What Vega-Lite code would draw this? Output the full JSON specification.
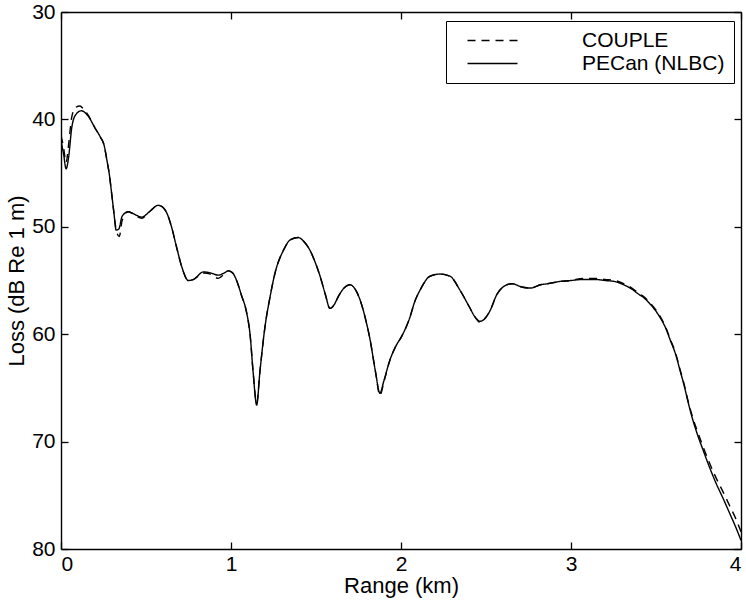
{
  "$schema": "https://vega.github.io/schema/vega-lite/v6.json",
  "width": 680,
  "height": 537,
  "autosize": "none",
  "padding": {"left": 61, "top": 12, "right": 5, "bottom": 58},
  "background": "white",
  "config": {
    "view": {"stroke": null},
    "font": "Liberation Sans",
    "axis": {
      "grid": false,
      "domainColor": "black",
      "domainWidth": 1.4,
      "tickColor": "black",
      "tickWidth": 1.3,
      "tickSize": -7,
      "labelColor": "black",
      "titleColor": "black",
      "labelFont": "Liberation Sans",
      "titleFont": "Liberation Sans",
      "labelFontSize": 21,
      "titleFontSize": 22,
      "titleFontWeight": "normal"
    },
    "legend": {
      "labelFont": "Liberation Sans",
      "labelFontSize": 21,
      "labelColor": "black"
    }
  },
  "data": {"values": [
    {"series": "PECan (NLBC)", "range": 0.0, "loss": 42.0},
    {"series": "PECan (NLBC)", "range": 0.015, "loss": 43.2},
    {"series": "PECan (NLBC)", "range": 0.03, "loss": 44.6},
    {"series": "PECan (NLBC)", "range": 0.045, "loss": 43.5},
    {"series": "PECan (NLBC)", "range": 0.063, "loss": 40.8},
    {"series": "PECan (NLBC)", "range": 0.085, "loss": 39.6},
    {"series": "PECan (NLBC)", "range": 0.12, "loss": 39.2},
    {"series": "PECan (NLBC)", "range": 0.16, "loss": 39.7},
    {"series": "PECan (NLBC)", "range": 0.2, "loss": 40.8},
    {"series": "PECan (NLBC)", "range": 0.23, "loss": 41.6},
    {"series": "PECan (NLBC)", "range": 0.255, "loss": 42.5},
    {"series": "PECan (NLBC)", "range": 0.27, "loss": 43.8},
    {"series": "PECan (NLBC)", "range": 0.285, "loss": 45.2},
    {"series": "PECan (NLBC)", "range": 0.298, "loss": 46.9},
    {"series": "PECan (NLBC)", "range": 0.312, "loss": 48.8},
    {"series": "PECan (NLBC)", "range": 0.324, "loss": 50.3},
    {"series": "PECan (NLBC)", "range": 0.34, "loss": 50.2},
    {"series": "PECan (NLBC)", "range": 0.36, "loss": 49.0},
    {"series": "PECan (NLBC)", "range": 0.396, "loss": 48.6},
    {"series": "PECan (NLBC)", "range": 0.44, "loss": 48.9},
    {"series": "PECan (NLBC)", "range": 0.475, "loss": 49.1},
    {"series": "PECan (NLBC)", "range": 0.52, "loss": 48.6},
    {"series": "PECan (NLBC)", "range": 0.572, "loss": 48.0},
    {"series": "PECan (NLBC)", "range": 0.6, "loss": 48.2},
    {"series": "PECan (NLBC)", "range": 0.622, "loss": 48.7},
    {"series": "PECan (NLBC)", "range": 0.65, "loss": 50.0},
    {"series": "PECan (NLBC)", "range": 0.68, "loss": 51.9},
    {"series": "PECan (NLBC)", "range": 0.71, "loss": 53.7},
    {"series": "PECan (NLBC)", "range": 0.749, "loss": 55.0},
    {"series": "PECan (NLBC)", "range": 0.78, "loss": 54.9},
    {"series": "PECan (NLBC)", "range": 0.837, "loss": 54.2},
    {"series": "PECan (NLBC)", "range": 0.88, "loss": 54.3},
    {"series": "PECan (NLBC)", "range": 0.925, "loss": 54.5},
    {"series": "PECan (NLBC)", "range": 0.96, "loss": 54.3},
    {"series": "PECan (NLBC)", "range": 0.984, "loss": 54.1},
    {"series": "PECan (NLBC)", "range": 1.01, "loss": 54.3},
    {"series": "PECan (NLBC)", "range": 1.033, "loss": 55.0},
    {"series": "PECan (NLBC)", "range": 1.06, "loss": 56.3},
    {"series": "PECan (NLBC)", "range": 1.092, "loss": 58.0},
    {"series": "PECan (NLBC)", "range": 1.112, "loss": 60.0},
    {"series": "PECan (NLBC)", "range": 1.13, "loss": 63.5},
    {"series": "PECan (NLBC)", "range": 1.151, "loss": 66.6},
    {"series": "PECan (NLBC)", "range": 1.17, "loss": 63.5},
    {"series": "PECan (NLBC)", "range": 1.2, "loss": 59.3},
    {"series": "PECan (NLBC)", "range": 1.23, "loss": 56.5},
    {"series": "PECan (NLBC)", "range": 1.259, "loss": 54.3},
    {"series": "PECan (NLBC)", "range": 1.308, "loss": 52.2},
    {"series": "PECan (NLBC)", "range": 1.35, "loss": 51.2},
    {"series": "PECan (NLBC)", "range": 1.396, "loss": 51.0},
    {"series": "PECan (NLBC)", "range": 1.43, "loss": 51.4},
    {"series": "PECan (NLBC)", "range": 1.465, "loss": 52.2},
    {"series": "PECan (NLBC)", "range": 1.495, "loss": 53.3},
    {"series": "PECan (NLBC)", "range": 1.524, "loss": 54.6},
    {"series": "PECan (NLBC)", "range": 1.555, "loss": 56.3},
    {"series": "PECan (NLBC)", "range": 1.582, "loss": 57.6},
    {"series": "PECan (NLBC)", "range": 1.605, "loss": 57.3},
    {"series": "PECan (NLBC)", "range": 1.631, "loss": 56.5},
    {"series": "PECan (NLBC)", "range": 1.665, "loss": 55.7},
    {"series": "PECan (NLBC)", "range": 1.7, "loss": 55.4},
    {"series": "PECan (NLBC)", "range": 1.73, "loss": 55.8},
    {"series": "PECan (NLBC)", "range": 1.759, "loss": 56.8},
    {"series": "PECan (NLBC)", "range": 1.79, "loss": 58.5},
    {"series": "PECan (NLBC)", "range": 1.818, "loss": 60.5},
    {"series": "PECan (NLBC)", "range": 1.85, "loss": 63.5},
    {"series": "PECan (NLBC)", "range": 1.876, "loss": 65.5},
    {"series": "PECan (NLBC)", "range": 1.9, "loss": 64.3},
    {"series": "PECan (NLBC)", "range": 1.935, "loss": 62.4},
    {"series": "PECan (NLBC)", "range": 1.97, "loss": 61.1},
    {"series": "PECan (NLBC)", "range": 2.004, "loss": 60.2},
    {"series": "PECan (NLBC)", "range": 2.053, "loss": 58.4},
    {"series": "PECan (NLBC)", "range": 2.08, "loss": 57.0},
    {"series": "PECan (NLBC)", "range": 2.112, "loss": 55.9},
    {"series": "PECan (NLBC)", "range": 2.171, "loss": 54.6},
    {"series": "PECan (NLBC)", "range": 2.229, "loss": 54.4},
    {"series": "PECan (NLBC)", "range": 2.288, "loss": 54.6},
    {"series": "PECan (NLBC)", "range": 2.347, "loss": 55.9},
    {"series": "PECan (NLBC)", "range": 2.4, "loss": 57.4},
    {"series": "PECan (NLBC)", "range": 2.44, "loss": 58.5},
    {"series": "PECan (NLBC)", "range": 2.465, "loss": 58.8},
    {"series": "PECan (NLBC)", "range": 2.49, "loss": 58.6},
    {"series": "PECan (NLBC)", "range": 2.524, "loss": 57.8},
    {"series": "PECan (NLBC)", "range": 2.564, "loss": 56.3},
    {"series": "PECan (NLBC)", "range": 2.61, "loss": 55.5},
    {"series": "PECan (NLBC)", "range": 2.653, "loss": 55.3},
    {"series": "PECan (NLBC)", "range": 2.71, "loss": 55.6},
    {"series": "PECan (NLBC)", "range": 2.762, "loss": 55.7},
    {"series": "PECan (NLBC)", "range": 2.82, "loss": 55.4},
    {"series": "PECan (NLBC)", "range": 2.862, "loss": 55.3},
    {"series": "PECan (NLBC)", "range": 2.93, "loss": 55.1},
    {"series": "PECan (NLBC)", "range": 3.0, "loss": 55.0},
    {"series": "PECan (NLBC)", "range": 3.07, "loss": 54.9},
    {"series": "PECan (NLBC)", "range": 3.139, "loss": 54.9},
    {"series": "PECan (NLBC)", "range": 3.2, "loss": 55.0},
    {"series": "PECan (NLBC)", "range": 3.259, "loss": 55.1},
    {"series": "PECan (NLBC)", "range": 3.31, "loss": 55.4},
    {"series": "PECan (NLBC)", "range": 3.358, "loss": 55.8},
    {"series": "PECan (NLBC)", "range": 3.4, "loss": 56.3},
    {"series": "PECan (NLBC)", "range": 3.428, "loss": 56.6},
    {"series": "PECan (NLBC)", "range": 3.46, "loss": 57.1},
    {"series": "PECan (NLBC)", "range": 3.497, "loss": 57.8},
    {"series": "PECan (NLBC)", "range": 3.53, "loss": 58.6},
    {"series": "PECan (NLBC)", "range": 3.556, "loss": 59.4},
    {"series": "PECan (NLBC)", "range": 3.585, "loss": 60.6},
    {"series": "PECan (NLBC)", "range": 3.616, "loss": 61.9},
    {"series": "PECan (NLBC)", "range": 3.64, "loss": 63.3},
    {"series": "PECan (NLBC)", "range": 3.666, "loss": 64.8},
    {"series": "PECan (NLBC)", "range": 3.69, "loss": 66.4},
    {"series": "PECan (NLBC)", "range": 3.715, "loss": 67.9},
    {"series": "PECan (NLBC)", "range": 3.745, "loss": 69.4},
    {"series": "PECan (NLBC)", "range": 3.775, "loss": 70.7},
    {"series": "PECan (NLBC)", "range": 3.815, "loss": 72.4},
    {"series": "PECan (NLBC)", "range": 3.854, "loss": 73.9},
    {"series": "PECan (NLBC)", "range": 3.895, "loss": 75.3},
    {"series": "PECan (NLBC)", "range": 3.934, "loss": 76.7},
    {"series": "PECan (NLBC)", "range": 3.97, "loss": 78.0},
    {"series": "PECan (NLBC)", "range": 4.0, "loss": 79.2},

    {"series": "COUPLE", "range": 0.0, "loss": 41.5},
    {"series": "COUPLE", "range": 0.015, "loss": 42.6},
    {"series": "COUPLE", "range": 0.03, "loss": 44.0},
    {"series": "COUPLE", "range": 0.045, "loss": 42.3},
    {"series": "COUPLE", "range": 0.063, "loss": 39.8},
    {"series": "COUPLE", "range": 0.085, "loss": 38.9},
    {"series": "COUPLE", "range": 0.112, "loss": 38.75},
    {"series": "COUPLE", "range": 0.13, "loss": 39.0},
    {"series": "COUPLE", "range": 0.16, "loss": 39.6},
    {"series": "COUPLE", "range": 0.2, "loss": 40.8},
    {"series": "COUPLE", "range": 0.23, "loss": 41.6},
    {"series": "COUPLE", "range": 0.255, "loss": 42.5},
    {"series": "COUPLE", "range": 0.27, "loss": 43.8},
    {"series": "COUPLE", "range": 0.285, "loss": 45.2},
    {"series": "COUPLE", "range": 0.298, "loss": 46.9},
    {"series": "COUPLE", "range": 0.312, "loss": 48.8},
    {"series": "COUPLE", "range": 0.326, "loss": 50.4},
    {"series": "COUPLE", "range": 0.343, "loss": 50.9},
    {"series": "COUPLE", "range": 0.36, "loss": 49.4},
    {"series": "COUPLE", "range": 0.396, "loss": 48.6},
    {"series": "COUPLE", "range": 0.44, "loss": 49.0},
    {"series": "COUPLE", "range": 0.475, "loss": 49.2},
    {"series": "COUPLE", "range": 0.52, "loss": 48.6},
    {"series": "COUPLE", "range": 0.572, "loss": 48.0},
    {"series": "COUPLE", "range": 0.6, "loss": 48.2},
    {"series": "COUPLE", "range": 0.622, "loss": 48.7},
    {"series": "COUPLE", "range": 0.65, "loss": 50.0},
    {"series": "COUPLE", "range": 0.68, "loss": 51.9},
    {"series": "COUPLE", "range": 0.71, "loss": 53.7},
    {"series": "COUPLE", "range": 0.749, "loss": 55.0},
    {"series": "COUPLE", "range": 0.78, "loss": 54.9},
    {"series": "COUPLE", "range": 0.837, "loss": 54.3},
    {"series": "COUPLE", "range": 0.88, "loss": 54.4},
    {"series": "COUPLE", "range": 0.925, "loss": 54.8},
    {"series": "COUPLE", "range": 0.96, "loss": 54.4},
    {"series": "COUPLE", "range": 0.984, "loss": 54.1},
    {"series": "COUPLE", "range": 1.01, "loss": 54.3},
    {"series": "COUPLE", "range": 1.033, "loss": 55.0},
    {"series": "COUPLE", "range": 1.06, "loss": 56.3},
    {"series": "COUPLE", "range": 1.092, "loss": 58.0},
    {"series": "COUPLE", "range": 1.112, "loss": 60.0},
    {"series": "COUPLE", "range": 1.13, "loss": 63.5},
    {"series": "COUPLE", "range": 1.151, "loss": 66.4},
    {"series": "COUPLE", "range": 1.17, "loss": 63.5},
    {"series": "COUPLE", "range": 1.2, "loss": 59.3},
    {"series": "COUPLE", "range": 1.23, "loss": 56.5},
    {"series": "COUPLE", "range": 1.259, "loss": 54.3},
    {"series": "COUPLE", "range": 1.308, "loss": 52.2},
    {"series": "COUPLE", "range": 1.35, "loss": 51.2},
    {"series": "COUPLE", "range": 1.396, "loss": 51.0},
    {"series": "COUPLE", "range": 1.43, "loss": 51.4},
    {"series": "COUPLE", "range": 1.465, "loss": 52.2},
    {"series": "COUPLE", "range": 1.495, "loss": 53.3},
    {"series": "COUPLE", "range": 1.524, "loss": 54.6},
    {"series": "COUPLE", "range": 1.555, "loss": 56.3},
    {"series": "COUPLE", "range": 1.582, "loss": 57.6},
    {"series": "COUPLE", "range": 1.605, "loss": 57.3},
    {"series": "COUPLE", "range": 1.631, "loss": 56.5},
    {"series": "COUPLE", "range": 1.665, "loss": 55.7},
    {"series": "COUPLE", "range": 1.7, "loss": 55.4},
    {"series": "COUPLE", "range": 1.73, "loss": 55.8},
    {"series": "COUPLE", "range": 1.759, "loss": 56.8},
    {"series": "COUPLE", "range": 1.79, "loss": 58.5},
    {"series": "COUPLE", "range": 1.818, "loss": 60.5},
    {"series": "COUPLE", "range": 1.85, "loss": 63.5},
    {"series": "COUPLE", "range": 1.876, "loss": 65.7},
    {"series": "COUPLE", "range": 1.9, "loss": 64.4},
    {"series": "COUPLE", "range": 1.935, "loss": 62.4},
    {"series": "COUPLE", "range": 1.97, "loss": 61.1},
    {"series": "COUPLE", "range": 2.004, "loss": 60.2},
    {"series": "COUPLE", "range": 2.053, "loss": 58.4},
    {"series": "COUPLE", "range": 2.08, "loss": 57.0},
    {"series": "COUPLE", "range": 2.112, "loss": 55.9},
    {"series": "COUPLE", "range": 2.171, "loss": 54.6},
    {"series": "COUPLE", "range": 2.229, "loss": 54.4},
    {"series": "COUPLE", "range": 2.288, "loss": 54.6},
    {"series": "COUPLE", "range": 2.347, "loss": 55.9},
    {"series": "COUPLE", "range": 2.4, "loss": 57.4},
    {"series": "COUPLE", "range": 2.44, "loss": 58.5},
    {"series": "COUPLE", "range": 2.465, "loss": 58.9},
    {"series": "COUPLE", "range": 2.49, "loss": 58.6},
    {"series": "COUPLE", "range": 2.524, "loss": 57.8},
    {"series": "COUPLE", "range": 2.564, "loss": 56.3},
    {"series": "COUPLE", "range": 2.61, "loss": 55.5},
    {"series": "COUPLE", "range": 2.653, "loss": 55.3},
    {"series": "COUPLE", "range": 2.71, "loss": 55.6},
    {"series": "COUPLE", "range": 2.762, "loss": 55.7},
    {"series": "COUPLE", "range": 2.82, "loss": 55.4},
    {"series": "COUPLE", "range": 2.862, "loss": 55.3},
    {"series": "COUPLE", "range": 2.93, "loss": 55.1},
    {"series": "COUPLE", "range": 3.0, "loss": 55.0},
    {"series": "COUPLE", "range": 3.07, "loss": 54.8},
    {"series": "COUPLE", "range": 3.139, "loss": 54.8},
    {"series": "COUPLE", "range": 3.2, "loss": 54.9},
    {"series": "COUPLE", "range": 3.259, "loss": 55.0},
    {"series": "COUPLE", "range": 3.31, "loss": 55.3},
    {"series": "COUPLE", "range": 3.358, "loss": 55.7},
    {"series": "COUPLE", "range": 3.4, "loss": 56.2},
    {"series": "COUPLE", "range": 3.428, "loss": 56.5},
    {"series": "COUPLE", "range": 3.46, "loss": 57.0},
    {"series": "COUPLE", "range": 3.497, "loss": 57.7},
    {"series": "COUPLE", "range": 3.53, "loss": 58.5},
    {"series": "COUPLE", "range": 3.556, "loss": 59.3},
    {"series": "COUPLE", "range": 3.585, "loss": 60.5},
    {"series": "COUPLE", "range": 3.616, "loss": 61.8},
    {"series": "COUPLE", "range": 3.64, "loss": 63.2},
    {"series": "COUPLE", "range": 3.666, "loss": 64.7},
    {"series": "COUPLE", "range": 3.69, "loss": 66.3},
    {"series": "COUPLE", "range": 3.715, "loss": 67.7},
    {"series": "COUPLE", "range": 3.745, "loss": 69.1},
    {"series": "COUPLE", "range": 3.775, "loss": 70.4},
    {"series": "COUPLE", "range": 3.815, "loss": 72.0},
    {"series": "COUPLE", "range": 3.854, "loss": 73.4},
    {"series": "COUPLE", "range": 3.895, "loss": 74.7},
    {"series": "COUPLE", "range": 3.934, "loss": 76.0},
    {"series": "COUPLE", "range": 3.97, "loss": 77.2},
    {"series": "COUPLE", "range": 4.0, "loss": 78.4}
  ]},
  "layer": [
    {
      "mark": {"type": "line", "color": "black", "strokeWidth": 1.4, "interpolate": "monotone", "clip": true},
      "encoding": {
        "x": {"field": "range", "type": "quantitative",
              "scale": {"domain": [0, 4], "nice": false, "zero": false},
              "axis": {"title": "Range (km)", "values": [0, 1, 2, 3, 4], "format": "d", "labelPadding": 11, "titlePadding": 1, "orient": "bottom"}},
        "y": {"field": "loss", "type": "quantitative",
              "scale": {"domain": [30, 80], "nice": false, "zero": false, "reverse": true},
              "axis": {"title": "Loss (dB Re 1 m)", "values": [30, 40, 50, 60, 70, 80], "labelPadding": 13, "titlePadding": 3, "orient": "left"}},
        "strokeDash": {"field": "series", "type": "nominal",
              "scale": {"domain": ["COUPLE", "PECan (NLBC)"], "range": [[8, 6], [1, 0]]},
              "legend": {"title": null, "orient": "none", "legendX": 385, "legendY": 9,
                         "strokeColor": "black", "fillColor": "white", "padding": 9,
                         "symbolType": "M-5,0H5", "symbolStrokeWidth": 1.4, "symbolStrokeColor": "black",
                         "symbolFillColor": "transparent",
                         "symbolSize": 100, "symbolOffset": 27, "labelOffset": 79, "rowPadding": 1, "labelFontSize": 21}},
        "detail": {"field": "series"}
      }
    },
    {
      "mark": {"type": "line", "strokeOpacity": 0},
      "encoding": {
        "x": {"field": "range", "type": "quantitative",
              "axis": {"orient": "top", "title": null, "labels": false, "values": [0, 1, 2, 3, 4]}},
        "y": {"field": "loss", "type": "quantitative",
              "axis": {"orient": "right", "title": null, "labels": false, "values": [30, 40, 50, 60, 70, 80]}}
      }
    }
  ],
  "resolve": {"axis": {"x": "independent", "y": "independent"}}
}
